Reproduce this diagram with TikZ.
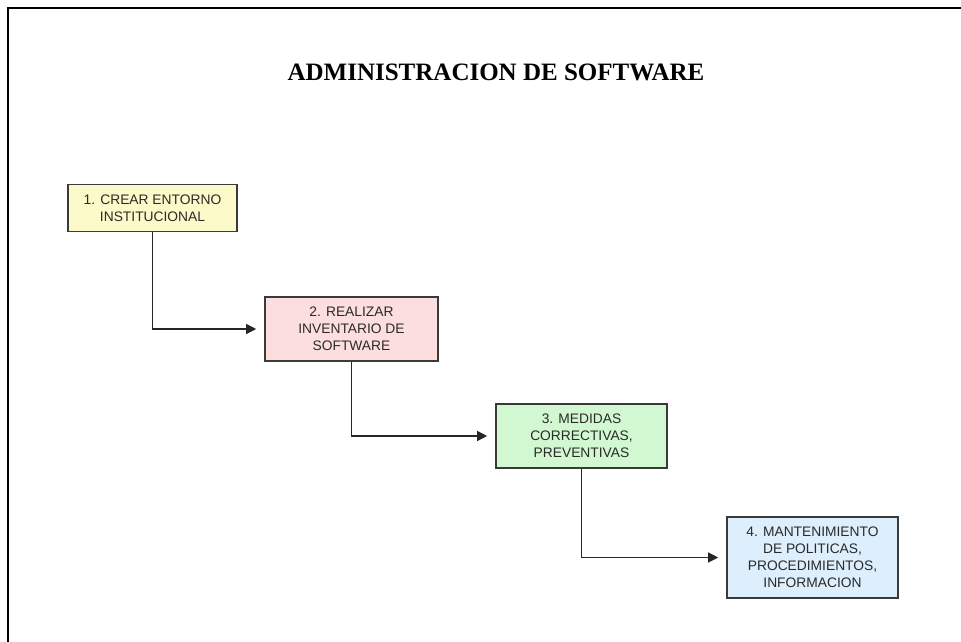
\documentclass[tikz,border=0pt]{standalone}
\usepackage{fontspec}
\setmainfont{Liberation Sans}
\newfontfamily\titlefont{Liberation Serif}
\usetikzlibrary{arrows.meta}
\definecolor{c1}{HTML}{FCFAC8}
\definecolor{c2}{HTML}{FCDEDE}
\definecolor{c3}{HTML}{D2F8D2}
\definecolor{c4}{HTML}{DDEEFC}
\definecolor{bordc}{HTML}{3A3A3A}
\definecolor{txtc}{HTML}{2A2A2A}
\begin{document}
\begin{tikzpicture}[x=1pt,y=-1pt,
  stepbox/.style={draw=bordc,line width=1.6pt,inner sep=0pt,align=center,
    text=txtc,font=\fontsize{13.8}{17}\selectfont},
  conn/.style={draw=black!85,line width=1.2pt,-{Triangle[length=10pt,width=10pt]},shorten >=8pt}]
\useasboundingbox (0,0) rectangle (961,642);
\fill[white] (0,0) rectangle (961,642);
\draw[line width=2.2pt] (8,650) -- (8,8) -- (970,8);
\node[font=\titlefont\bfseries\fontsize{25}{28}\selectfont] (title) at (496,72) {ADMINISTRACION DE SOFTWARE};
\node[stepbox,fill=c1,minimum width=169pt,minimum height=47pt] (b1) at (152.5,208) {1. CREAR ENTORNO\\INSTITUCIONAL};
\node[stepbox,fill=c2,minimum width=173pt,minimum height=64pt] (b2) at (351.5,329) {2. REALIZAR\\INVENTARIO DE\\SOFTWARE};
\node[stepbox,fill=c3,minimum width=171pt,minimum height=64pt] (b3) at (581.5,436) {3. MEDIDAS\\CORRECTIVAS,\\PREVENTIVAS};
\node[stepbox,fill=c4,minimum width=171pt,minimum height=81pt] (b4) at (812.5,557.5) {4. MANTENIMIENTO\\DE POLITICAS,\\PROCEDIMIENTOS,\\INFORMACION};
\draw[conn] (b1.south) |- (b2.west);
\draw[conn] (b2.south) |- (b3.west);
\draw[conn] (b3.south) |- (b4.west);
\end{tikzpicture}
\end{document}
